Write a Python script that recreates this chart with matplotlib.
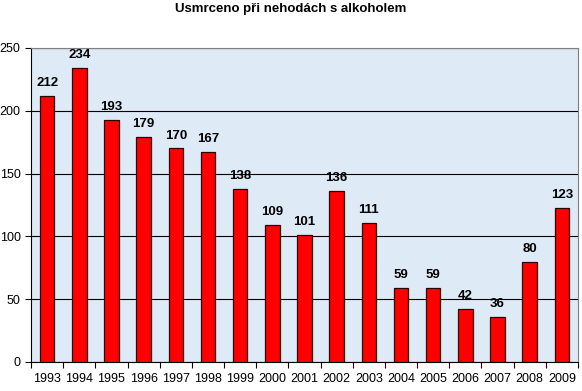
import matplotlib
matplotlib.use("Agg")
import matplotlib.pyplot as plt
import numpy as np

years = ["1993", "1994", "1995", "1996", "1997", "1998", "1999", "2000", "2001",
         "2002", "2003", "2004", "2005", "2006", "2007", "2008", "2009"]
values = [212, 234, 193, 179, 170, 167, 138, 109, 101, 136, 111, 59, 59, 42, 36, 80, 123]
title = "Usmrceno při nehodách s alkoholem"

plt.rcParams['font.family'] = ['Liberation Sans', 'DejaVu Sans']

fig = plt.figure(figsize=(5.82, 3.91), dpi=100)
ax = fig.add_axes([31/582, 1-362/391, (578-31)/582, (362-48)/391])
ax.set_facecolor('#dfeaf7')

x = np.arange(len(years))
ax.bar(x, values, width=0.45, color='#ff0000', edgecolor='#2a0000', linewidth=0.9, zorder=3)
for xi, v in zip(x, values):
    ax.text(xi, v + 5.5, str(v), ha='center', va='bottom', fontsize=9.5, fontweight='bold', zorder=4)

ax.set_xlim(-0.5, len(years) - 0.5)
ax.set_ylim(0, 250)
ax.set_yticks([0, 50, 100, 150, 200, 250])
ax.yaxis.grid(True, color='black', linewidth=0.8, zorder=1)
ax.set_axisbelow(True)

ax.set_xticks(np.arange(-0.5, len(years), 1.0))
ax.set_xticklabels([])
ax.set_xticks(x, minor=True)
ax.set_xticklabels(years, minor=True)
ax.tick_params(axis='x', which='minor', length=0, labelsize=9, pad=8)
ax.tick_params(axis='x', which='major', length=4, direction='out')
ax.tick_params(axis='y', length=4, direction='out', labelsize=9)

for s in ['top', 'right']:
    ax.spines[s].set_color('#808080')
for s in ['left', 'bottom']:
    ax.spines[s].set_color('black')

fig.text(0.5, 1 - 9/391, title, ha='center', va='center', fontsize=9.5, fontweight='bold')

fig.savefig('out.png', dpi=100)
